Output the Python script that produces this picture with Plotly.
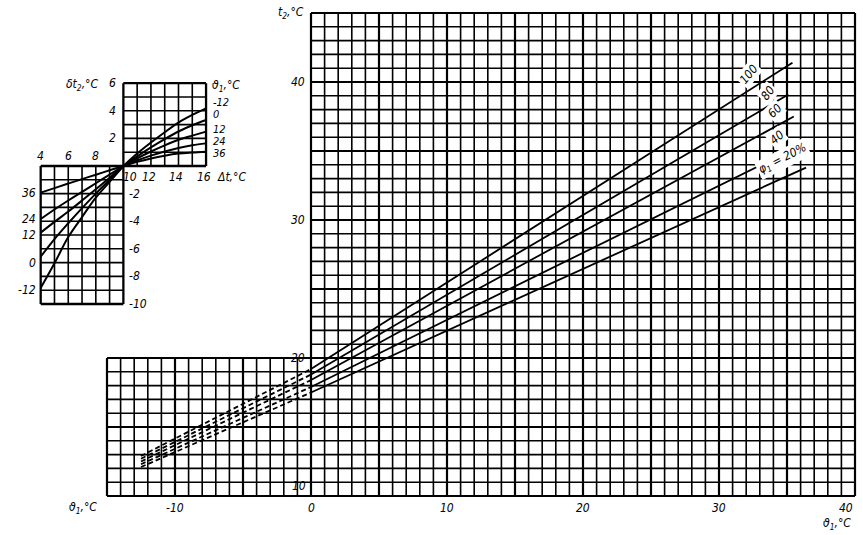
import plotly.graph_objects as go

W, H = 863, 535

# ---------------- main chart data ----------------
phi1 = [100, 80, 60, 40, 20]
phi_labels = ["100", "80", "60", "40", "φ<sub>1</sub> = 20%"]
theta1_dash_start = -12.5
theta1_zero = 0.0
theta1_end = [35.4, 35.1, 35.5, 35.8, 36.4]
t2_dash_start = [12.9, 12.7, 12.5, 12.3, 12.1]
t2_zero = [19.2, 18.8, 18.4, 17.9, 17.5]
t2_end = [41.4, 39.1, 37.5, 35.3, 33.8]

main_xticks = [-10, 0, 10, 20, 30, 40]
main_yticks = [10, 20, 30, 40]

# label positions/angles of the phi curves (data coords)
phi_label_x = [32.2, 33.6, 34.1, 34.3, 34.7]
phi_label_y = [40.6, 39.2, 37.9, 36.0, 34.4]
phi_label_angle = [-50, -52, -45, -40, -27]

# ---------------- inset nomogram data ----------------
theta1_curves = [36, 24, 12, 0, -12]
dt_lower = [4, 5, 6, 7, 8, 9, 10]
dt2_lower = {
    36: [-1.93, -1.60, -1.27, -0.95, -0.63, -0.31, 0.0],
    24: [-3.84, -3.15, -2.50, -1.88, -1.25, -0.62, 0.0],
    12: [-4.83, -4.05, -3.30, -2.50, -1.68, -0.85, 0.0],
    0: [-6.57, -5.30, -4.15, -3.05, -2.00, -1.00, 0.0],
    -12: [-8.84, -7.05, -5.15, -3.70, -2.30, -1.15, 0.0],
}
dt_upper = [10, 11, 12, 13, 14, 15, 16]
dt2_upper = {
    -12: [0.0, 0.90, 1.70, 2.45, 3.15, 3.70, 4.18],
    0: [0.0, 0.70, 1.35, 1.95, 2.50, 2.95, 3.33],
    12: [0.0, 0.55, 1.05, 1.50, 1.90, 2.20, 2.49],
    24: [0.0, 0.40, 0.75, 1.05, 1.30, 1.50, 1.64],
    36: [0.0, 0.30, 0.55, 0.75, 0.90, 0.98, 1.04],
}
inset_top_ticks = [4, 6, 8]
inset_bottom_ticks = [10, 12, 14, 16]
inset_left_ticks = [2, 4, 6]
inset_right_ticks = [-2, -4, -6, -8, -10]
# label heights of theta curves
upper_label_y = {-12: 4.6, 0: 3.75, 12: 2.68, 24: 1.74, 36: 0.9}
lower_label_y = {36: -1.96, 24: -3.84, 12: -5.0, 0: -7.03, -12: -8.99}

# ---------------- geometry (pixels) ----------------
def mx(v):
    return 311 + 13.6 * v

def my(v):
    return 496 - 13.8 * (v - 10)

def ix(v):
    return 40.7 + 13.78 * (v - 4)

def iy(v):
    return 166 - 13.8 * v

mxr = [-15.3, 40.4]
myr = [9.6, 45.4]
ixr = [3.7, 16.3]
iyr = [-10.3, 6.3]

fig = go.Figure()

def add_lines(segs, xa, ya, width, dash="solid"):
    xs, ys = [], []
    for (x0, y0, x1, y1) in segs:
        xs += [x0, x1, None]
        ys += [y0, y1, None]
    fig.add_trace(go.Scatter(x=xs, y=ys, mode="lines", xaxis=xa, yaxis=ya,
                             line=dict(color="black", width=width, dash=dash),
                             hoverinfo="skip", showlegend=False))

# main grid
thin, heavy = [], []
for v in range(-15, 41):
    top = 45 if v >= 0 else 20
    seg = (v, 10, v, top)
    (heavy if (v % 5 == 0 or v == -15) else thin).append(seg)
for h in range(10, 46):
    left = -15 if h <= 20 else 0
    seg = (left, h, 40, h)
    (heavy if (h % 5 == 0 or h == 45) else thin).append(seg)
add_lines(thin, "x", "y", 1.6)
add_lines(heavy, "x", "y", 2.2)

# main curves
for i, p in enumerate(phi1):
    fig.add_trace(go.Scatter(x=[theta1_dash_start, theta1_zero], y=[t2_dash_start[i], t2_zero[i]],
                             mode="lines", line=dict(color="black", width=1.8, dash="5px,3px"),
                             xaxis="x", yaxis="y", showlegend=False, hoverinfo="skip"))
    fig.add_trace(go.Scatter(x=[theta1_zero, theta1_end[i]], y=[t2_zero[i], t2_end[i]],
                             mode="lines", line=dict(color="black", width=1.8),
                             xaxis="x", yaxis="y", showlegend=False, hoverinfo="skip"))

# inset grid
ithin, iheavy = [], []
for v in range(10, 17):
    (iheavy if v in (10, 16) else ithin).append((v, 0, v, 6))
for h in range(0, 7):
    (iheavy if h in (0, 6) else ithin).append((10, h, 16, h))
for v in range(4, 11):
    (iheavy if v in (4, 10) else ithin).append((v, -10, v, 0))
for h in range(-10, 1):
    (iheavy if h in (-10, 0) else ithin).append((4, h, 10, h))
add_lines(ithin, "x2", "y2", 1.6)
add_lines(iheavy, "x2", "y2", 2.3)

for t in theta1_curves:
    fig.add_trace(go.Scatter(x=dt_lower, y=dt2_lower[t], mode="lines", line=dict(color="black", width=2, shape="spline"),
                             xaxis="x2", yaxis="y2", showlegend=False, hoverinfo="skip"))
    fig.add_trace(go.Scatter(x=dt_upper, y=dt2_upper[t], mode="lines", line=dict(color="black", width=2, shape="spline"),
                             xaxis="x2", yaxis="y2", showlegend=False, hoverinfo="skip"))

ann = []
def A(x, y, text, xref="x", yref="y", xanchor="center", yanchor="middle", xshift=0, yshift=0, size=12, angle=0, bg=None):
    d = dict(x=x, y=y, xref=xref, yref=yref, text=text, showarrow=False,
             xanchor=xanchor, yanchor=yanchor, xshift=xshift, yshift=yshift,
             textangle=angle, font=dict(size=size))
    if bg:
        d["bgcolor"] = bg
    ann.append(d)

# main axis labels
for v in main_yticks:
    if v == 10:
        A(0, v, str(v), xanchor="right", yanchor="bottom", xshift=-3, yshift=1)
    else:
        A(0, v, str(v), xanchor="right", xshift=-4)
for v in main_xticks:
    if v == 40:
        A(v, 10, str(v), xanchor="right", yanchor="top", yshift=-3)
    else:
        A(v, 10, str(v), yanchor="top", yshift=-3)
A(0, 45, "t<sub>2</sub>,°C", xanchor="right", xshift=-5)
A(-15, 10, "ϑ<sub>1</sub>,°C", xanchor="right", yanchor="top", xshift=-8, yshift=-2)
A(40, 10, "ϑ<sub>1</sub>,°C", xanchor="right", yanchor="top", xshift=-2, yshift=-18)
for i, p in enumerate(phi1):
    A(phi_label_x[i], phi_label_y[i], phi_labels[i], size=12, angle=phi_label_angle[i], bg="white")

# inset labels
for v in inset_top_ticks:
    A(v, 0, str(v), "x2", "y2", yanchor="bottom", yshift=1, size=12)
for v in inset_bottom_ticks:
    A(v, 0, str(v), "x2", "y2", yanchor="top", yshift=-2, xshift=(7 if v == 10 else -2), size=12)
for v in inset_left_ticks:
    A(10, v, str(v), "x2", "y2", xanchor="right", xshift=-5, size=12)
for v in inset_right_ticks:
    A(10, v, str(v), "x2", "y2", xanchor="left", xshift=4, size=12)
for t in theta1_curves:
    A(16, upper_label_y[t], str(t), "x2", "y2", xanchor="left", xshift=5, size=11)
    A(4, lower_label_y[t], str(t), "x2", "y2", xanchor="right", xshift=-3, size=12)
A(16, 0, "Δt,°C", "x2", "y2", xanchor="left", yanchor="top", xshift=9, yshift=-2, size=12)
A(16, 6, "ϑ<sub>1</sub>,°C", "x2", "y2", xanchor="left", yanchor="middle", xshift=4, yshift=-3, size=12)
A(3.0, 1.52, "Δt,°C", "x2", "y2", size=12)
A(2.6, -0.87, "ϑ<sub>1</sub>,°C", "x2", "y2", size=12)
A(8.67, -11.0, "δt<sub>2</sub>,°C", "x2", "y2", size=12)
A(7.0, 6.0, "δt<sub>2</sub>,°C", "x2", "y2", yshift=-2, size=12)

ax_common = dict(visible=False, showgrid=False, zeroline=False, fixedrange=True)
fig.update_layout(
    width=W, height=H, margin=dict(l=0, r=0, t=0, b=0),
    paper_bgcolor="white", plot_bgcolor="rgba(0,0,0,0)",
    font=dict(family="Liberation Sans Narrow, DejaVu Sans Condensed, Liberation Sans, sans-serif",
              size=12, color="black", style="italic"),
    xaxis=dict(range=mxr, domain=[mx(mxr[0]) / W, mx(mxr[1]) / W], **ax_common),
    yaxis=dict(range=myr, domain=[(H - my(myr[0])) / H, (H - my(myr[1])) / H], **ax_common),
    xaxis2=dict(range=ixr, domain=[ix(ixr[0]) / W, ix(ixr[1]) / W], anchor="y2", **ax_common),
    yaxis2=dict(range=iyr, domain=[(H - iy(iyr[0])) / H, (H - iy(iyr[1])) / H], anchor="x2", **ax_common),
    annotations=ann,
    showlegend=False,
)

fig.write_html("out.html", config={"displayModeBar": False},
               post_script="document.body.style.margin='0';document.body.style.overflow='hidden';")
